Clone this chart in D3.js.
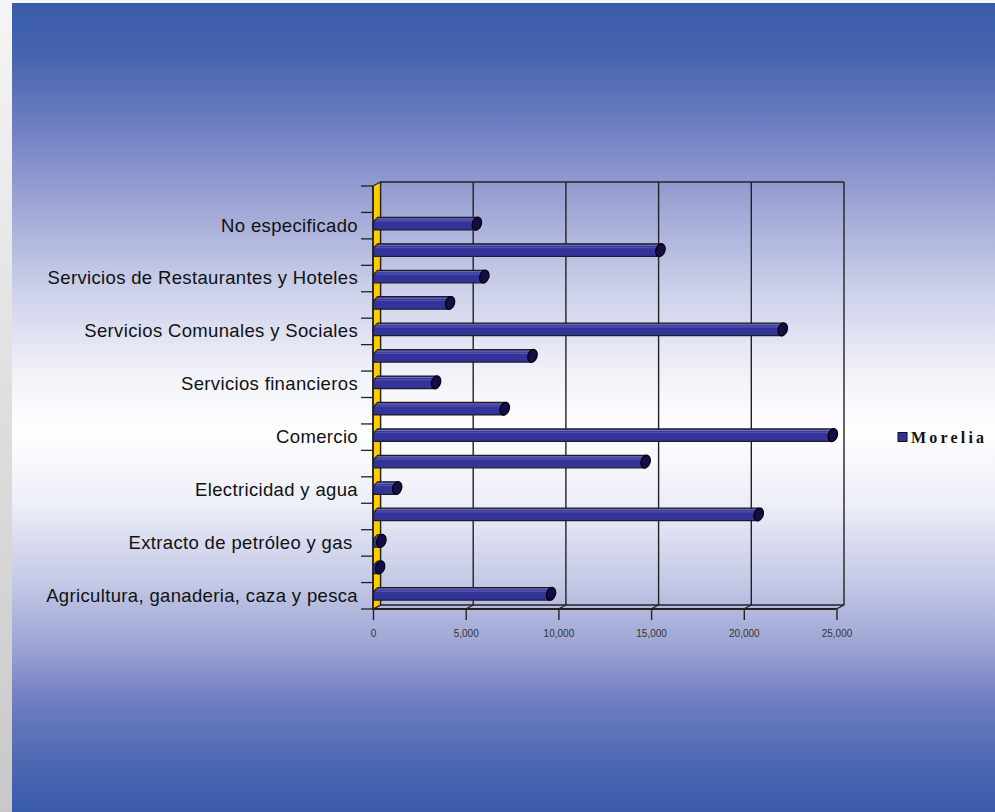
<!DOCTYPE html>
<html><head><meta charset="utf-8">
<script src="https://cdn.jsdelivr.net/npm/d3@7"></script>
<style>html,body{margin:0;padding:0;overflow:hidden;background:#f3f4f3}</style>
</head><body>
<svg id="chart" width="995" height="812"></svg>
<script>
// ---- data ----
const categories = ["Agricultura, ganaderia, caza y pesca", "", "Extracto de petróleo y gas ", "", "Electricidad y agua", "", "Comercio", "", "Servicios financieros", "", "Servicios Comunales y Sociales", "", "Servicios de Restaurantes y Hoteles", "", "No especificado", ""];
const values = [9400, 180, 250, 20600, 1100, 14500, 24600, 6900, 3200, 8400, 21900, 3950, 5800, 15300, 5400, null];
const seriesName = "Morelia";
const xTicks = [0, 5000, 10000, 15000, 20000, 25000];

(function () {
// ---- layout ----
const W = 995, H = 812;
const DX = 7.5, DY = -4;
const svg = d3.select("#chart");
const defs = svg.append("defs");

const strip = defs.append("linearGradient").attr("id", "strip").attr("x1", 0).attr("y1", 0).attr("x2", 0).attr("y2", 1);
strip.append("stop").attr("offset", 0).attr("stop-color", "#f4f5f4");
strip.append("stop").attr("offset", 1).attr("stop-color", "#c8c8c8");
svg.append("rect").attr("width", W).attr("height", H).attr("fill", "url(#strip)");
svg.append("rect").attr("width", W).attr("height", 3).attr("fill", "#f4f5f4");

const bg = defs.append("linearGradient").attr("id", "bg").attr("x1", 0).attr("y1", 0).attr("x2", 0).attr("y2", 1);
[[0, "#395caa"], [0.06, "#4463ae"], [0.145, "#6c7cc0"], [0.24, "#9aa2d3"], [0.36, "#ced2eb"], [0.46, "#f2f3fa"], [0.53, "#ffffff"], [0.62, "#eceef8"], [0.72, "#c2c7e5"], [0.8, "#9aa2d3"], [0.865, "#6e7cc0"], [0.94, "#4d68b2"], [1, "#395aa9"]]
  .forEach(s => bg.append("stop").attr("offset", s[0]).attr("stop-color", s[1]));
svg.append("rect").attr("x", 12).attr("y", 3).attr("width", W - 12).attr("height", H - 3).attr("fill", "url(#bg)");

const x = d3.scaleLinear().domain([0, 25000]).range([373, 836.5]);
const y = d3.scaleBand().domain(d3.range(categories.length)).range([609, 186]);
const bw = y.bandwidth();
const yTop = 186, yBot = 609;
const line = "#222";

// back wall grid
const wall = svg.append("g").attr("stroke", line).attr("stroke-width", 1.4).attr("fill", "none");
wall.selectAll("line.grid").data(xTicks).join("line").attr("class", "grid")
  .attr("x1", d => x(d) + DX).attr("x2", d => x(d) + DX)
  .attr("y1", yTop + DY).attr("y2", yBot + DY);
wall.append("line").attr("x1", x(0) + DX).attr("x2", x(25000) + DX).attr("y1", yTop + DY).attr("y2", yTop + DY);
// floor
wall.append("line").attr("x1", x(0) + DX).attr("x2", x(25000) + DX).attr("y1", yBot + DY).attr("y2", yBot + DY);
wall.append("line").attr("x1", x(0)).attr("x2", x(25000)).attr("y1", yBot).attr("y2", yBot).attr("stroke-width", 2);
wall.selectAll("line.slant").data(xTicks).join("line").attr("class", "slant")
  .attr("x1", d => x(d)).attr("x2", d => x(d) + DX)
  .attr("y1", yBot).attr("y2", yBot + DY);

// yellow side wall
svg.append("polygon")
  .attr("points", [[x(0), yTop], [x(0) + DX, yTop + DY], [x(0) + DX, yBot + DY], [x(0), yBot]].map(p => p.join(",")).join(" "))
  .attr("fill", "#ffcc00").attr("stroke", line).attr("stroke-width", 1.3);

// bars
const barH = 12.5;
const bars = svg.append("g");
values.forEach((v, i) => {
  if (v == null) return;
  const c = y(i) + bw / 2 - 2;
  const xv = x(v) + DX / 2;
  const x0 = x(0) + 0.5;
  const g = bars.append("g");
  g.append("path")
    .attr("d", `M${x0},${c + barH / 2} L${x0},${c - 2} L${x0 + 4},${c - barH / 2} L${xv},${c - barH / 2} L${xv},${c + barH / 2} Z`)
    .attr("fill", "#333399").attr("stroke", "#1c1c2c").attr("stroke-width", 1.2);
  g.append("line").attr("x1", x0 + 3).attr("x2", xv).attr("y1", c - barH / 2 + 1.5).attr("y2", c - barH / 2 + 1.5)
    .attr("stroke", "#8a8ab0").attr("stroke-width", 0.8);
  g.append("line").attr("x1", x0 + 2).attr("x2", xv).attr("y1", c - 2.6).attr("y2", c - 2.6)
    .attr("stroke", "#5050b0").attr("stroke-width", 1.4);
  g.append("ellipse").attr("cx", xv).attr("cy", c).attr("rx", 4.5).attr("ry", 6.6)
    .attr("transform", `rotate(18,${xv},${c})`)
    .attr("fill", "#150c48").attr("stroke", "#000").attr("stroke-width", 1.2);
});

// y ticks at band boundaries
const bounds = d3.range(categories.length).map(i => y(i)).concat([yBot]);
svg.append("g").selectAll("line").data(bounds).join("line")
  .attr("x1", 361).attr("x2", x(0)).attr("y1", d => d).attr("y2", d => d)
  .attr("stroke", line).attr("stroke-width", 1.3);

// y labels
const yAxis = svg.append("g").attr("transform", `translate(${x(0)},0)`)
  .call(d3.axisLeft(y).tickSize(0).tickPadding(15).tickFormat(i => categories[i]));
yAxis.select(".domain").remove();
yAxis.selectAll("text").attr("font-family", "'Liberation Sans', Arial, sans-serif").attr("font-size", 18.5)
  .attr("letter-spacing", 0.35).attr("fill", "#111").style("white-space", "pre");

// front left edge
svg.append("line").attr("x1", x(0)).attr("x2", x(0)).attr("y1", yTop).attr("y2", yBot).attr("stroke", line).attr("stroke-width", 1.6);

// x axis
const xAxis = svg.append("g").attr("transform", `translate(0,${yBot})`)
  .call(d3.axisBottom(x).tickValues(xTicks).tickSize(11).tickPadding(10).tickFormat(d3.format(",")));
xAxis.select(".domain").remove();
xAxis.selectAll(".tick line").attr("stroke", line).attr("stroke-width", 1.4);
xAxis.selectAll("text").attr("font-family", "'Liberation Sans', Arial, sans-serif").attr("font-size", 10).attr("fill", "#333");

// legend
const lg = svg.append("g").attr("transform", "translate(898,437)");
lg.append("rect").attr("x", 0).attr("y", -4.5).attr("width", 9).attr("height", 9).attr("fill", "#333399").attr("stroke", "#111").attr("stroke-width", 1);
lg.append("text").attr("x", 13).attr("y", 0).attr("dy", "0.35em").text(seriesName)
  .attr("font-family", "'Liberation Serif', 'Times New Roman', serif").attr("font-weight", "bold")
  .attr("font-size", 16).attr("letter-spacing", 3.2).attr("fill", "#111");
})();
</script>
</body></html>
